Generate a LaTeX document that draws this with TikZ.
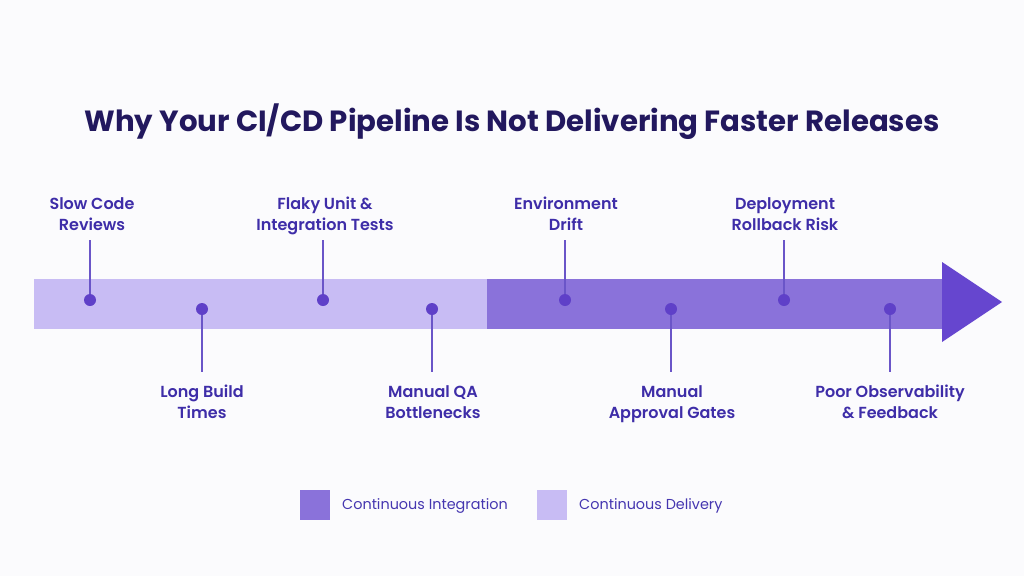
\documentclass[tikz,border=0pt]{standalone}
\usepackage{fontspec}
\setmainfont{Poppins}
\newfontfamily\ttl{Poppins Bold}
\newfontfamily\lbl{Poppins SemiBold}
\definecolor{bg}{HTML}{FBFBFD}
\definecolor{lightbar}{HTML}{C8BCF4}
\definecolor{darkbar}{HTML}{8A72DA}
\definecolor{headc}{HTML}{6646CF}
\definecolor{dotc}{HTML}{5F40C8}
\definecolor{linec}{HTML}{6A55C8}
\definecolor{titlec}{HTML}{22185E}
\definecolor{labelc}{HTML}{3E2DA8}
\definecolor{legc}{HTML}{4536B0}
\begin{document}
\begin{tikzpicture}[x=1pt,y=-1pt,
  dotn/.style={circle,fill=dotc,inner sep=0pt,minimum size=12pt},
  lab/.style={text=labelc,font=\lbl\fontsize{16}{21}\selectfont,align=center,inner sep=0pt},
  stem/.style={draw=linec,line width=1.1pt},
  leg/.style={text=legc,font=\fontsize{14.4}{16}\selectfont,anchor=west,inner sep=0pt}]
\fill[bg] (0,0) rectangle (1024,576);
\useasboundingbox (0,0) rectangle (1024,576);
\node[text=titlec,font=\ttl\fontsize{29.2}{32}\selectfont] (title) at (512,122) {Why Your CI/CD Pipeline Is Not Delivering Faster Releases};
% bar
\fill[lightbar] (34,279) rectangle (487,329);
\fill[darkbar] (487,279) rectangle (944,329);
\fill[headc] (942,262) -- (1002,302) -- (942,342) -- cycle;
% dots
\node[dotn] (d1) at (90,300) {};
\node[dotn] (d2) at (202,309) {};
\node[dotn] (d3) at (323,300) {};
\node[dotn] (d4) at (432,309) {};
\node[dotn] (d5) at (565,300) {};
\node[dotn] (d6) at (671,309) {};
\node[dotn] (d7) at (784,300) {};
\node[dotn] (d8) at (890,309) {};
% stem ends
\coordinate (t1) at (90,240);
\coordinate (b2) at (202,372);
\coordinate (t3) at (323,240);
\coordinate (b4) at (432,372);
\coordinate (t5) at (565,240);
\coordinate (b6) at (671,372);
\coordinate (t7) at (784,240);
\coordinate (b8) at (890,372);
\draw[stem] (t1) -- (d1);
\draw[stem] (d2) -- (b2);
\draw[stem] (t3) -- (d3);
\draw[stem] (d4) -- (b4);
\draw[stem] (t5) -- (d5);
\draw[stem] (d6) -- (b6);
\draw[stem] (t7) -- (d7);
\draw[stem] (d8) -- (b8);
% labels
\node[lab] (l1) at (92,215.3) {\strut Slow Code\\\strut Reviews};
\node[lab] (l3) at (325,215.3) {\strut Flaky Unit \&\\\strut Integration Tests};
\node[lab] (l5) at (566,215.3) {\strut Environment\\\strut Drift};
\node[lab] (l7) at (785,215.3) {\strut Deployment\\\strut Rollback Risk};
\node[lab] (l2) at (202,403.3) {\strut Long Build\\\strut Times};
\node[lab] (l4) at (433,403.3) {\strut Manual QA\\\strut Bottlenecks};
\node[lab] (l6) at (672,403.3) {\strut Manual\\\strut Approval Gates};
\node[lab] (l8) at (890,403.3) {\strut Poor Observability\\\strut\& Feedback};
% legend
\fill[darkbar] (300,490) rectangle (330,520);
\node[leg] (lg1) at (342,506) {Continuous Integration};
\fill[lightbar] (537,490) rectangle (567,520);
\node[leg] (lg2) at (579,506) {Continuous Delivery};
\end{tikzpicture}
\end{document}
